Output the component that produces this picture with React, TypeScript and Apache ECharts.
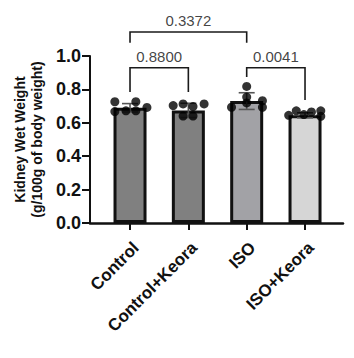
import React, { useEffect, useRef } from "react";
import * as echarts from "echarts";

const categories = ["Control", "Control+Keora", "ISO", "ISO+Keora"];
const means = [0.69, 0.674, 0.73, 0.645];
const sds = [0.025, 0.043, 0.05, 0.015];
const barColors = ["#808080", "#808080", "#a2a2a6", "#d6d6d6"];

const controlPoints = [0.726, 0.726, 0.667, 0.672, 0.672, 0.692];
const controlJitter = [-0.26, 0.1, -0.26, -0.07, 0.1, 0.29];
const ckPoints = [0.703, 0.713, 0.697, 0.713, 0.64, 0.64];
const ckJitter = [-0.26, -0.09, 0.08, 0.27, -0.09, 0.08];
const isoPoints = [0.818, 0.754, 0.719, 0.693, 0.732, 0.693];
const isoJitter = [0, 0, 0, -0.26, 0.27, 0.27];
const ikPoints = [0.645, 0.672, 0.649, 0.665, 0.672, 0.639];
const ikJitter = [-0.28, -0.15, -0.02, 0.11, 0.27, 0.27];

const comparisons = [[0, 1], [0, 2], [2, 3]];
const bracketTops = [0.93, 1.144, 0.93];
const bracketLegEnds = [[0.784, 0.784], [1.08, 1.08], [0.874, 0.737]];
const pValues = ["0.8800", "0.3372", "0.0041"];

const FONT = "Liberation Sans, Arial, sans-serif";

export default function App() {
  const ref = useRef<HTMLDivElement>(null);
  useEffect(() => {
    if (!ref.current) return;
    const chart = echarts.init(ref.current, undefined, { renderer: "svg" });

    const groups = [
      [controlPoints, controlJitter],
      [ckPoints, ckJitter],
      [isoPoints, isoJitter],
      [ikPoints, ikJitter],
    ];
    const pointData: number[][] = [];
    groups.forEach(([vals, jit], i) => {
      (vals as number[]).forEach((v, k) => pointData.push([i + (jit as number[])[k], v]));
    });

    const option: any = {
      animation: false,
      backgroundColor: "#ffffff",
      grid: { left: 90, top: 56, width: 253, height: 167, containLabel: false },
      xAxis: {
        type: "value",
        min: -0.686,
        max: 3.651,
        splitLine: { show: false },
        axisLine: { show: true, onZero: false, lineStyle: { color: "#111", width: 2.5 } },
        axisTick: {
          show: true,
          length: 7,
          lineStyle: { color: "#111", width: 2 },
          customValues: [0, 1, 2, 3],
        },
        axisLabel: {
          show: true,
          rotate: 45,
          margin: 16,
          verticalAlign: "top",
          customValues: [0, 1, 2, 3],
          formatter: (v: number) => categories[Math.round(v)] ?? "",
          color: "#111",
          fontSize: 17,
          fontWeight: "bold",
          fontFamily: FONT,
        },
      },
      yAxis: {
        type: "value",
        min: 0,
        max: 1.0,
        interval: 0.2,
        splitLine: { show: false },
        axisLine: { show: true, onZero: false, lineStyle: { color: "#111", width: 2 } },
        axisTick: { show: true, length: 8, lineStyle: { color: "#111", width: 2 } },
        axisLabel: {
          margin: 9,
          color: "#111",
          fontSize: 18,
          fontWeight: "bold",
          fontFamily: FONT,
          formatter: (v: number) => v.toFixed(1),
        },
        name: "Kidney Wet Weight\n(g/100g of body weight)",
        nameLocation: "middle",
        nameRotate: 90,
        nameGap: 32,
        nameTextStyle: {
          color: "#111",
          fontSize: 14,
          fontWeight: "bold",
          fontFamily: FONT,
          lineHeight: 17,
        },
      },
      series: [
        {
          type: "bar",
          barWidth: 33,
          data: means.map((m, i) => ({
            value: [i, m],
            itemStyle: { color: barColors[i], borderColor: "#111", borderWidth: 3 },
          })),
          z: 2,
        },
        {
          type: "custom",
          z: 3,
          data: means.map((m, i) => [i, m, sds[i]]),
          renderItem: (params: any, api: any) => {
            const x = api.value(0);
            const m = api.value(1);
            const s = api.value(2);
            const top = api.coord([x, m + s]);
            const bot = api.coord([x, m - s]);
            const half = 8;
            const style = { stroke: "#555", lineWidth: 1.6 };
            return {
              type: "group",
              children: [
                { type: "line", shape: { x1: top[0], y1: top[1], x2: bot[0], y2: bot[1] }, style },
                { type: "line", shape: { x1: top[0] - half, y1: top[1], x2: top[0] + half, y2: top[1] }, style },
                { type: "line", shape: { x1: bot[0] - half, y1: bot[1], x2: bot[0] + half, y2: bot[1] }, style },
              ],
            };
          },
        },
        {
          type: "scatter",
          data: pointData,
          symbolSize: 9,
          itemStyle: { color: "#000" },
          z: 4,
          clip: false,
        },
        {
          type: "custom",
          z: 5,
          clip: false,
          silent: true,
          data: comparisons.map((c, i) => [c[0], c[1], bracketTops[i], bracketLegEnds[i][0], bracketLegEnds[i][1]]),
          renderItem: (params: any, api: any) => {
            const a = api.value(0);
            const b = api.value(1);
            const t = api.value(2);
            const p1 = api.coord([a, api.value(3)]);
            const p2 = api.coord([a, t]);
            const p3 = api.coord([b, t]);
            const p4 = api.coord([b, api.value(4)]);
            return {
              type: "polyline",
              shape: { points: [p1, p2, p3, p4] },
              style: { stroke: "#1a1a1a", lineWidth: 1.6, fill: "none" },
            };
          },
        },
        {
          type: "scatter",
          symbolSize: 0,
          clip: false,
          silent: true,
          data: comparisons.map((c, i) => ({
            value: [(c[0] + c[1]) / 2, bracketTops[i]],
            name: pValues[i],
          })),
          label: {
            show: true,
            position: "top",
            distance: 4,
            formatter: (p: any) => p.name,
            color: "#111",
            fontSize: 15,
            fontFamily: FONT,
          },
          z: 6,
        },
      ],
    };
    chart.setOption(option);
    return () => chart.dispose();
  }, []);
  return (
    <div
      ref={ref}
      style={{ position: "fixed", left: 0, top: 0, width: 354, height: 358, background: "#fff" }}
    />
  );
}
